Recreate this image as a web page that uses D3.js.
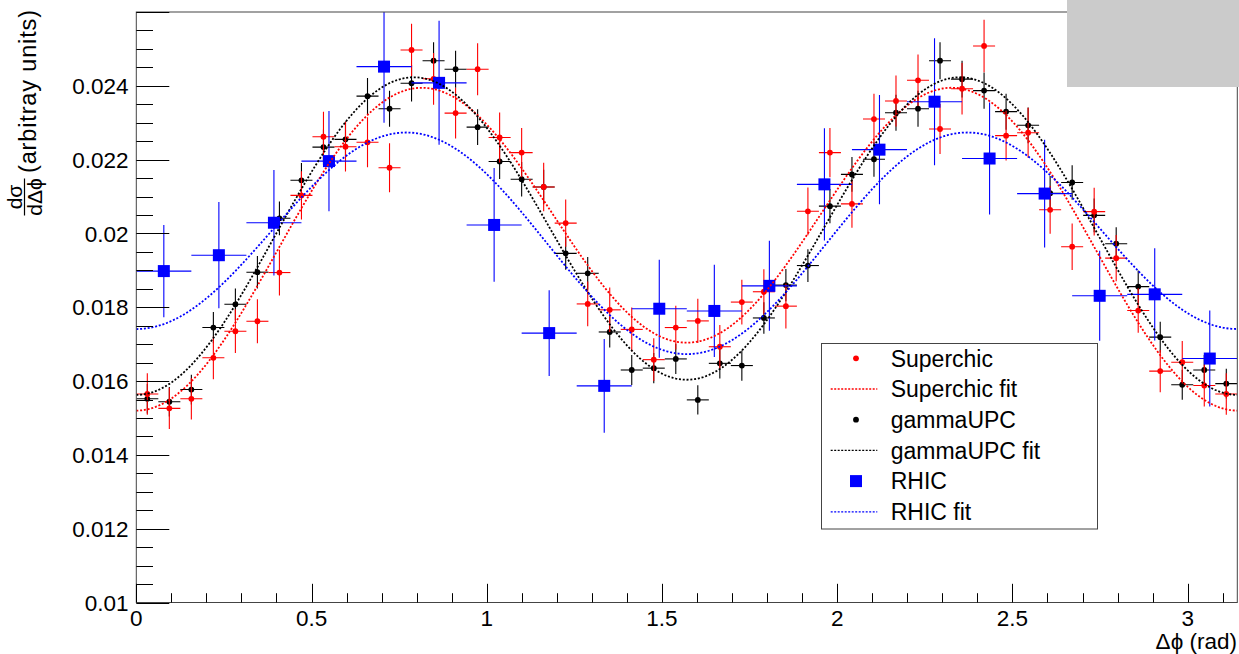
<!DOCTYPE html>
<html>
<head>
<meta charset="utf-8">
<script src="https://cdn.jsdelivr.net/npm/d3@7"></script>
<style>
  html, body { margin: 0; padding: 0; background: #fff; }
  svg { display: block; }
  text { font-family: "Liberation Sans", Arial, Helvetica, sans-serif; fill: #000; }
</style>
</head>
<body>
<svg id="chart" width="1239" height="654"></svg>
<script>
// Δφ distributions: two generators (50 bins) and RHIC data (20 bins)
const superchicBins = 50;
const rhicBins = 20;

const superchicValues = [
  0.01565, 0.01526, 0.01552, 0.01663, 0.01735, 0.01762, 0.01894, 0.02103, 0.02262, 0.02235,
  0.02247, 0.02178, 0.02497, 0.02419, 0.02326, 0.02445, 0.02260, 0.02219, 0.02126, 0.02028,
  0.01809, 0.01793, 0.01740, 0.01658, 0.01745, 0.01763, 0.01693, 0.01814, 0.01842, 0.01803,
  0.02060, 0.02219, 0.02080, 0.02310, 0.02359, 0.02415, 0.02283, 0.02392, 0.02508, 0.02265,
  0.02273, 0.02064, 0.01964, 0.02059, 0.01933, 0.01791, 0.01627, 0.01651, 0.01588, 0.01565
];
const superchicErrors = [
  0.000563, 0.000556, 0.000561, 0.000580, 0.000593, 0.000597, 0.000619, 0.000653, 0.000677, 0.000673,
  0.000675, 0.000664, 0.000711, 0.000700, 0.000686, 0.000704, 0.000676, 0.000670, 0.000656, 0.000641,
  0.000605, 0.000603, 0.000594, 0.000579, 0.000594, 0.000598, 0.000586, 0.000606, 0.000611, 0.000604,
  0.000646, 0.000670, 0.000649, 0.000684, 0.000691, 0.000699, 0.000680, 0.000696, 0.000713, 0.000677,
  0.000678, 0.000647, 0.000631, 0.000646, 0.000626, 0.000602, 0.000574, 0.000578, 0.000567, 0.000563
];

const gammaUpcValues = [
  0.01552, 0.01544, 0.01577, 0.01745, 0.01808, 0.01895, 0.02041, 0.02144, 0.02234, 0.02255,
  0.02372, 0.02338, 0.02407, 0.02468, 0.02445, 0.02288, 0.02195, 0.02147, 0.02126, 0.01946,
  0.01892, 0.01733, 0.01630, 0.01635, 0.01660, 0.01549, 0.01648, 0.01642, 0.01771, 0.01860,
  0.01913, 0.02074, 0.02160, 0.02201, 0.02327, 0.02338, 0.02468, 0.02418, 0.02387, 0.02330,
  0.02293, 0.02109, 0.02138, 0.02049, 0.01972, 0.01856, 0.01719, 0.01590, 0.01630, 0.01593
];
const gammaUpcErrors = [
  0.000399, 0.000398, 0.000402, 0.000423, 0.000430, 0.000441, 0.000457, 0.000469, 0.000478, 0.000481,
  0.000493, 0.000489, 0.000496, 0.000503, 0.000500, 0.000484, 0.000474, 0.000469, 0.000467, 0.000446,
  0.000440, 0.000421, 0.000409, 0.000409, 0.000412, 0.000398, 0.000411, 0.000410, 0.000426, 0.000436,
  0.000443, 0.000461, 0.000470, 0.000475, 0.000488, 0.000489, 0.000503, 0.000498, 0.000494, 0.000488,
  0.000485, 0.000465, 0.000468, 0.000458, 0.000449, 0.000436, 0.000420, 0.000404, 0.000409, 0.000404
];

const rhicValues = [
  0.01898, 0.01941, 0.02029, 0.02196, 0.02452, 0.02408, 0.02023, 0.01730, 0.01587, 0.01796,
  0.01790, 0.01858, 0.02133, 0.02227, 0.02357, 0.02203, 0.02108, 0.01831, 0.01835, 0.01661
];
const rhicErrors = [
  0.00125, 0.00144, 0.00143, 0.00136, 0.00152, 0.00168, 0.00154, 0.00116, 0.00127, 0.00133,
  0.00125, 0.00122, 0.00152, 0.00148, 0.00172, 0.00152, 0.00146, 0.00122, 0.00125, 0.00130
];

// fit results for p0 + p1*cos(2Δφ) + p2*cos(4Δφ)
const superchicFit = [0.02002, -0.00092, -0.00390];
const gammaUpcFit  = [0.02003, -0.000205, -0.00420];
const rhicFit      = [0.01990, 0.00034, -0.00283];

const yTickValues = [0.01, 0.012, 0.014, 0.016, 0.018, 0.02, 0.022, 0.024];
const yTickLabels = ["0.01", "0.012", "0.014", "0.016", "0.018", "0.02", "0.022", "0.024"];
const xTickValues = [0, 0.5, 1, 1.5, 2, 2.5, 3];
const xTickLabels = ["0", "0.5", "1", "1.5", "2", "2.5", "3"];

const legendLabels = ["Superchic", "Superchic fit", "gammaUPC", "gammaUPC fit", "RHIC", "RHIC fit"];

const svg = d3.select("#chart");
const W = 1239, H = 654;
const frameL = 136.3, frameR = 1237.3, frameT = 12, frameB = 602.5;

const x = d3.scaleLinear().domain([0, Math.PI]).range([frameL, frameR]);
const y = d3.scaleLinear().domain([0.01, 0.026]).range([frameB, frameT]);

svg.append("rect").attr("width", W).attr("height", H).attr("fill", "#fff");

svg.append("defs").append("clipPath").attr("id", "frameClip")
  .append("rect").attr("x", frameL).attr("y", frameT).attr("width", frameR - frameL).attr("height", frameB - frameT);

const plot = svg.append("g").attr("clip-path", "url(#frameClip)");

function histPoints(values, errors, nBins) {
  const w = Math.PI / nBins;
  return values.map((v, i) => ({ x0: i * w, x1: (i + 1) * w, xc: (i + 0.5) * w, v, e: errors[i] }));
}

function drawErrors(g, pts, color) {
  const eg = g.append("g").attr("stroke", color).attr("stroke-width", 1.1);
  eg.selectAll("line.h").data(pts).join("line")
    .attr("x1", d => x(d.x0)).attr("x2", d => x(d.x1))
    .attr("y1", d => y(d.v)).attr("y2", d => y(d.v));
  eg.selectAll("line.v").data(pts).join("line")
    .attr("x1", d => x(d.xc)).attr("x2", d => x(d.xc))
    .attr("y1", d => y(d.v - d.e)).attr("y2", d => y(d.v + d.e));
}

function fitCurve(p) {
  const n = 400;
  const pts = d3.range(n + 1).map(k => {
    const phi = Math.PI * k / n;
    return [phi, p[0] + p[1] * Math.cos(2 * phi) + p[2] * Math.cos(4 * phi)];
  });
  return d3.line().x(d => x(d[0])).y(d => y(d[1]))(pts);
}

const dash = "2,1.8";

// gammaUPC
const gPts = histPoints(gammaUpcValues, gammaUpcErrors, superchicBins);
drawErrors(plot, gPts, "#000");
plot.append("g").selectAll("circle").data(gPts).join("circle")
  .attr("cx", d => x(d.xc)).attr("cy", d => y(d.v)).attr("r", 2.9).attr("fill", "#000");

// Superchic
const sPts = histPoints(superchicValues, superchicErrors, superchicBins);
drawErrors(plot, sPts, "#ff0000");
plot.append("g").selectAll("circle").data(sPts).join("circle")
  .attr("cx", d => x(d.xc)).attr("cy", d => y(d.v)).attr("r", 2.9).attr("fill", "#ff0000");

// RHIC
const rPts = histPoints(rhicValues, rhicErrors, rhicBins);
drawErrors(plot, rPts, "#0000ff");
plot.append("g").selectAll("rect").data(rPts).join("rect")
  .attr("x", d => x(d.xc) - 6).attr("y", d => y(d.v) - 6)
  .attr("width", 12).attr("height", 12).attr("fill", "#0000ff");

// fits
[[superchicFit, "#ff0000"], [gammaUpcFit, "#000"], [rhicFit, "#0000ff"]].forEach(([p, c]) => {
  plot.append("path").attr("d", fitCurve(p)).attr("fill", "none")
    .attr("stroke", c).attr("stroke-width", 1.8).attr("stroke-dasharray", dash);
});

// frame
const axes = svg.append("g").attr("stroke", "#000").attr("stroke-width", 1).attr("fill", "none");
axes.append("rect").attr("x", frameL).attr("y", frameT).attr("width", frameR - frameL).attr("height", frameB - frameT)
  .attr("stroke", "#444");

// y axis ticks
const yMinor = d3.range(0, 33).map(k => 0.01 + k * 0.0005).filter(v => v <= 0.02601);
axes.selectAll("line.ym").data(yMinor).join("line")
  .attr("x1", frameL).attr("x2", (d, i) => frameL + (i % 4 === 0 ? 33 : 16.7))
  .attr("y1", d => Math.round(y(d)) + 0.5).attr("y2", d => Math.round(y(d)) + 0.5);

svg.append("g").selectAll("text").data(yTickValues).join("text")
  .attr("x", 128.5).attr("y", d => y(d)).attr("dy", "0.36em")
  .attr("text-anchor", "end").attr("font-size", 22.5)
  .text((d, i) => yTickLabels[i]);

// x axis ticks
const xMinor = d3.range(0, 32).map(k => k * 0.1);
axes.selectAll("line.xm").data(xMinor).join("line")
  .attr("x1", d => Math.round(x(d)) + 0.5).attr("x2", d => Math.round(x(d)) + 0.5)
  .attr("y1", frameB)
  .attr("y2", (d, i) => frameB - (i % 5 === 0 ? 18.7 : 9.3));

svg.append("g").selectAll("text").data(xTickValues).join("text")
  .attr("x", d => x(d)).attr("y", 625.5)
  .attr("text-anchor", "middle").attr("font-size", 22.5)
  .text((d, i) => xTickLabels[i]);

// axis titles
svg.append("text").attr("x", 1237).attr("y", 648.5).attr("text-anchor", "end")
  .attr("font-size", 22.5).text("Δϕ (rad)");

const yt = svg.append("g").attr("transform", "translate(36,10) rotate(-90)");
yt.append("text").attr("x", -163).attr("font-size", 23.5)
  .attr("textLength", 163).attr("lengthAdjust", "spacing").text("(arbitray units)");

const frac = svg.append("g").attr("transform", "translate(24.5,197) rotate(-90)");
frac.append("text").attr("text-anchor", "middle").attr("y", -3).attr("font-size", 21).text("dσ");
frac.append("text").attr("text-anchor", "middle").attr("y", 17).attr("font-size", 21).text("dΔϕ");
frac.append("line").attr("x1", -18.5).attr("x2", 18.5).attr("y1", 0).attr("y2", 0)
  .attr("stroke", "#000").attr("stroke-width", 1.2);

// grey box in the top-right corner
svg.append("rect").attr("x", 1067).attr("y", 0).attr("width", W - 1067).attr("height", 87)
  .attr("fill", "#cbcbcb");

// legend
const lg = svg.append("g");
lg.append("rect").attr("x", 821.5).attr("y", 343.5).attr("width", 276).attr("height", 185.5)
  .attr("fill", "#fff").attr("stroke", "#444").attr("stroke-width", 1);
const rowY = d3.range(legendLabels.length).map(k => 358.3 + k * 30.7);
const legendStyle = [
  { type: "dot", color: "#ff0000" }, { type: "line", color: "#ff0000" },
  { type: "dot", color: "#000" }, { type: "line", color: "#000" },
  { type: "square", color: "#0000ff" }, { type: "line", color: "#0000ff" }
];
legendStyle.forEach((s, k) => {
  const cy = rowY[k];
  if (s.type === "dot") {
    lg.append("circle").attr("cx", 856).attr("cy", cy).attr("r", 2.9).attr("fill", s.color);
  } else if (s.type === "square") {
    lg.append("rect").attr("x", 850).attr("y", cy - 6).attr("width", 12).attr("height", 12).attr("fill", s.color);
  } else {
    lg.append("line").attr("x1", 830.7).attr("x2", 877.3).attr("y1", cy).attr("y2", cy)
      .attr("stroke", s.color).attr("stroke-width", 1.3).attr("stroke-dasharray", "2,1.5");
  }
  lg.append("text").attr("x", 890.7).attr("y", cy).attr("dy", "0.36em")
    .attr("font-size", 23).text(legendLabels[k]);
});
</script>
</body>
</html>
